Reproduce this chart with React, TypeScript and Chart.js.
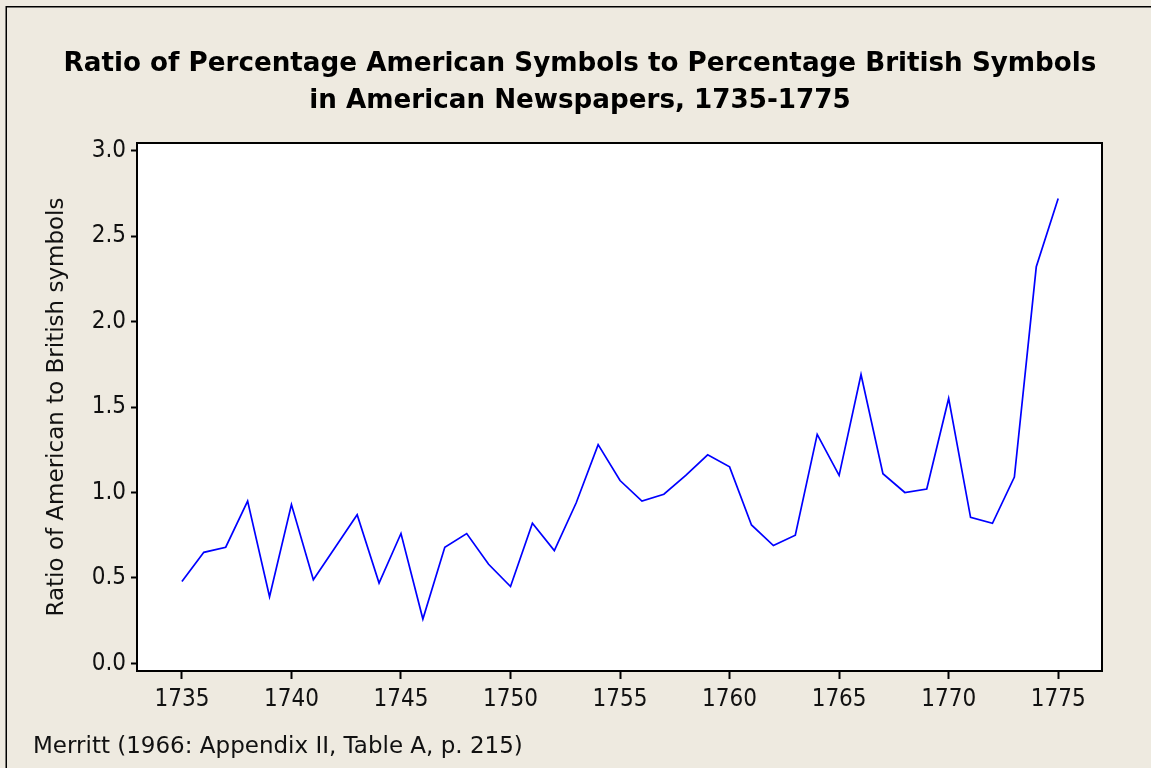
import React, { useEffect, useRef } from "react";
import { Chart, registerables } from "chart.js";

Chart.register(...registerables);

const years: number[] = [
  1735, 1736, 1737, 1738, 1739, 1740, 1741, 1742, 1743, 1744,
  1745, 1746, 1747, 1748, 1749, 1750, 1751, 1752, 1753, 1754,
  1755, 1756, 1757, 1758, 1759, 1760, 1761, 1762, 1763, 1764,
  1765, 1766, 1767, 1768, 1769, 1770, 1771, 1772, 1773, 1774, 1775,
];
const ratios: number[] = [
  0.48, 0.65, 0.68, 0.95, 0.39, 0.93, 0.49, 0.68, 0.87, 0.47,
  0.76, 0.26, 0.68, 0.76, 0.58, 0.45, 0.82, 0.66, 0.94, 1.28,
  1.07, 0.95, 0.99, 1.10, 1.22, 1.15, 0.81, 0.69, 0.75, 1.34,
  1.10, 1.69, 1.11, 1.00, 1.02, 1.55, 0.855, 0.82, 1.09, 2.32, 2.72,
];
const xTicks: number[] = [1735, 1740, 1745, 1750, 1755, 1760, 1765, 1770, 1775];
const yTicks: number[] = [0, 0.5, 1.0, 1.5, 2.0, 2.5, 3.0];

const titleLines: string[] = [
  "Ratio of Percentage American Symbols to Percentage British Symbols",
  "in American Newspapers, 1735-1775",
];
const yAxisTitle = "Ratio of American to British symbols";
const footnote = "Merritt (1966: Appendix II, Table A, p. 215)";

const FONT_C = "'DejaVu Sans Condensed', 'Liberation Sans', sans-serif";
const FONT = "'DejaVu Sans', 'Liberation Sans', sans-serif";
const BG = "#EEEAE0";

const decor = {
  id: "decor",
  beforeDraw(chart: any) {
    const { ctx, chartArea, width, height } = chart;
    ctx.save();
    ctx.fillStyle = BG;
    ctx.fillRect(0, 0, width, height);
    ctx.fillStyle = "#000";
    ctx.fillRect(6, 6, width - 6, 1.5);
    ctx.fillRect(5.5, 6, 1.5, height - 6);
    ctx.fillStyle = "#fff";
    ctx.fillRect(chartArea.left, chartArea.top, chartArea.right - chartArea.left, chartArea.bottom - chartArea.top);
    ctx.restore();
  },
  afterDraw(chart: any) {
    const { ctx, chartArea } = chart;
    ctx.save();
    ctx.strokeStyle = "#000";
    ctx.lineWidth = 2;
    ctx.strokeRect(chartArea.left, chartArea.top, chartArea.right - chartArea.left, chartArea.bottom - chartArea.top);
    ctx.fillStyle = "#111";
    ctx.font = `23px ${FONT}`;
    ctx.textAlign = "left";
    ctx.textBaseline = "alphabetic";
    ctx.fillText(footnote, 33, 753);
    ctx.restore();
  },
};

export default function App() {
  const ref = useRef<HTMLCanvasElement | null>(null);
  useEffect(() => {
    if (!ref.current) return;
    const chart = new Chart(ref.current, {
      type: "line",
      data: {
        datasets: [
          {
            data: years.map((y, i) => ({ x: y, y: ratios[i] })),
            borderColor: "#0000FF",
            borderWidth: 1.7,
            pointRadius: 0,
            tension: 0,
            fill: false,
          },
        ],
      },
      options: {
        animation: false,
        responsive: false,
        layout: { padding: { top: 0, left: 58, right: 49, bottom: 47 } },
        plugins: {
          legend: { display: false },
          tooltip: { enabled: false },
          title: {
            display: true,
            text: titleLines,
            color: "#000",
            font: { family: FONT, size: 26.2, weight: "bold", lineHeight: 37 / 26.2 },
            padding: { top: 46, bottom: 23 },
          },
        },
        scales: {
          x: {
            type: "linear",
            min: 1732.95,
            max: 1777.0,
            afterBuildTicks: (s: any) => {
              s.ticks = xTicks.map((v) => ({ value: v }));
            },
            afterFit: (s: any) => {
              s.height = 50;
            },
            border: { display: false },
            grid: { drawOnChartArea: false, drawTicks: true, tickLength: 8, tickWidth: 2, tickColor: "#000" },
            ticks: {
              color: "#111",
              font: { family: FONT_C, size: 24 },
              padding: 6,
              maxRotation: 0,
              autoSkip: false,
              callback: (v: any) => String(v),
            },
          },
          y: {
            type: "linear",
            min: -0.044,
            max: 3.044,
            afterBuildTicks: (s: any) => {
              s.ticks = yTicks.map((v) => ({ value: v }));
            },
            afterFit: (s: any) => {
              s.width = 79;
            },
            border: { display: false },
            grid: { drawOnChartArea: false, drawTicks: true, tickLength: 6, tickWidth: 2, tickColor: "#000" },
            ticks: {
              color: "#111",
              font: { family: FONT_C, size: 24 },
              padding: 5,
              autoSkip: false,
              callback: (v: any) => Number(v).toFixed(1),
            },
            title: {
              display: true,
              text: yAxisTitle,
              color: "#111",
              font: { family: FONT, size: 23, lineHeight: 1.2 },
              padding: { top: -15, bottom: 0 },
            },
          },
        },
      },
      plugins: [decor],
    });
    return () => chart.destroy();
  }, []);
  return (
    <div style={{ position: "fixed", left: 0, top: 0, width: 1151, height: 768 }}>
      <canvas ref={ref} width={1151} height={768} style={{ display: "block", width: 1151, height: 768 }} />
    </div>
  );
}
